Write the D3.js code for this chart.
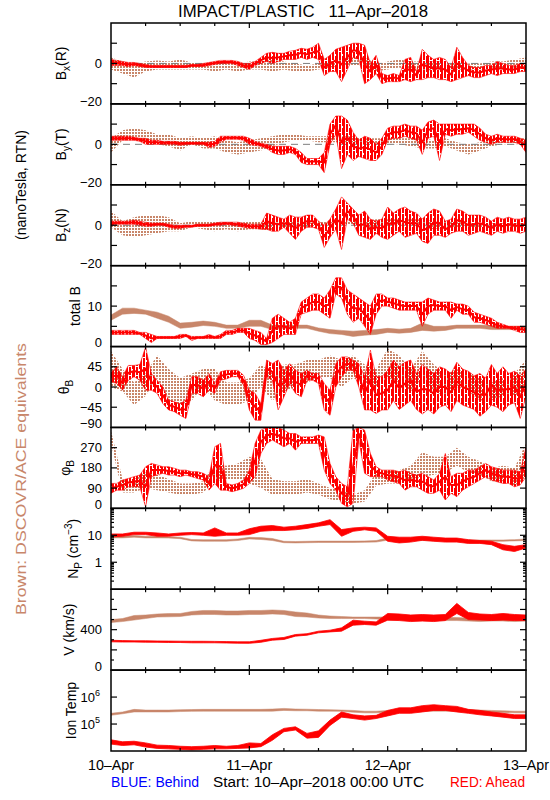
<!DOCTYPE html>
<html><head><meta charset="utf-8">
<script src="https://cdn.jsdelivr.net/npm/d3@7"></script>
<style>
body{margin:0;background:#fff}
svg{display:block}
text{font-family:"Liberation Sans",Arial,Helvetica,sans-serif}
</style>
</head><body>
<svg id="c" width="550" height="800"></svg>
<script>
// ---------------- DATA ----------------
const dayLabels = ["10–Apr","11–Apr","12–Apr","13–Apr"];
const dayHours = [0,24,48,72];
const titleText = "IMPACT/PLASTIC   11–Apr–2018";
const startText = "Start: 10–Apr–2018 00:00 UTC";

// red = STEREO Ahead (hourly, 0..72 h), brown = DSCOVR/ACE (every 2 h)
const bxRedLo = [-1,-1,-1,-1.5,-1,-1.5,-2,-2,-2,-2, -2,-2,-2,-2,-1.5,-1.5,-1.5,-1,-0.5,0, 0,0,-1,-2,-3,-1,0,1,0,1, 2,2,2,3,2,3,2,-6,-4,-4, -9,-3,3,2,-10,-8,-5,-10,-9,-9, -9,-8,-9,-8,-8,-7,-7,-8,-8,-9, -8,-7,-6,-7,-7,-6,-5,-6,-5,-5, -5,-4,-4];
const bxRedHi = [2,1.5,1,0.5,0.5,0,-0.5,-1,-1,-1, -1,-1,-1,-1,-0.5,-0.5,0,0.5,1,1.5, 1.5,1.5,1,0,0,1,3,5,5.5,5, 5,6,6.5,7.5,7,8,10,2,4,7, 8,9,10,10,9,0,4,-5,-6,-5, -6,2,3,-4,7,4,2,3,2,-2, 8,3,-1,-2,-2,-1,-1,1,0,-1, -1,0,-1];
const bxBrnLo = [-3,-5,-7,-4,-3,-3,-3,-3,-3,-4,-3,-4,-3,-3,-4,-3,-4,-4,-3,-2,-1,-1,-1,-4,-3,-2,-4,-4,-3,-3,-3,-3,-3,-2,-3,-2,-2];
const bxBrnHi = [3,1,0,1,1.5,1,2,0.5,0,0,1,0,1,1,2,1,0,-1,0,1,2,3,3,0,1,2,1,1,1,1,0,0,0,1,1,2,3];

const byRedLo = [2,2,2,2,2,1.5,0,0,0,0, 0,0,-0.5,0,0,0,0,-1.5,-1,1, 2.5,2.5,2.5,2,0,-0.5,-1,-2,-4,-5, -5,-4,-5,-9,-10,-10,-10,-14,0,5, -12,-5,-8,-6,-7,-8,-8,-5,2,3, 3,4,3,2,-5,3,4,-8,5,4, 5,5,6,4,2,1,0,1,1,1, 1,0,-4];
const byRedHi = [4,4,4,4,3.5,3,3,2,2,1.5, 1.5,1.5,1,1,1,1,1,1,1.5,4, 4,4,4,4,3,1.5,0.5,0,-1,-1, -1,-1,-2,-4,-7,-7,-7,-4,10,14, 14,12,6,2,4,3,0,3,8,9, 9,10,9,9,7,11,12,10,10,10, 10,10,10,10,8,5,4,5,4,4, 4,3,2];
const byBrnLo = [-4,2,2,1,0,-1,-3,0,-2,-2,-4,-5,-4,-3,-1,1,2,2,1,1,1,1,1,0,0,0,-1,-2,-2,-1,-3,-5,-3,-1,0,0,0];
const byBrnHi = [3,7,8,7,5,5,3,4,3,4,2,1,2,3,4,5,5,4,4,4,4,4,3,3,3,3,3,3,2,3,1,0,1,2,3,3,3];

const bzRedLo = [0,0.5,0.5,0.5,0.5,0,-0.5,-0.5,0,0, -1,-1.5,-1.5,-1,-1,-0.5,-0.5,-0.5,0,0, 0.5,0,-0.5,-1,-1.5,-1.5,-2,-2,-3,-3, -1,-4,-7,-3,-1,-1,-2,-11,-6,-2, -12,3,1,-5,-6,-7,-4,-6,-7,-5, -3,-6,-5,-4,-8,-9,-5,-5,-6,-4, -3,-3,-5,-4,-3,-4,-5,-3,-4,-3, -3,-4,-3];
const bzRedHi = [2,2,2,2,2.5,2,1.5,1,1,1, 0.5,0,0,0,0,0.5,0.5,0.5,1,1.5, 1.5,1.5,1.5,1,0.5,0.5,0.5,6,5,4, 3,5,4,4,5,5,2,0,3,8, 14,11,8,5,7,3,2,3,9,6, 8,9,7,6,3,6,8,7,2,3, 8,7,5,5,5,4,2,4,3,4, 3,3,4];
const bzBrnLo = [-1,-5,-6,-5,-4,-3,-3,-1,-2,-3,-2,-3,-2,-2,-3,-1,-1,-1,0,1,1,0,-1,-1,0,0,0,-1,-2,-1,-1,-1,-1,-1,-1,-1,-1];
const bzBrnHi = [7,2,4,5,5,4,1,2,2,2,2,1,2,2,1,2,2,1,2,2,2,2,2,3,3,3,3,3,2,2,2,1,1,1,1,1,1];

const btRedLo = [3,3,3,3,3,3,2,1,2,2, 2,2,2,2.5,1.5,2,2,2,2,2, 3,3,3.5,3.5,2,1.5,0.5,0.5,1,2, 3,3,3,8,8.5,9,9,8,7,13, 12,8,6,7,5,3,8,10,10,9.5, 9,9,9,9,5,8,9,9,9,7, 9,8,8,6,6,5.5,5,4.5,4.5,4.5, 4,3.5,3.5];
const btRedHi = [4,4,4,4,4,3.5,3.5,3,2.5,2.5, 2.5,2.5,3,3,2.5,2.5,2.5,3,2.5,3, 4,4,4.5,4.5,4.5,4,3.5,2,7,8, 7,6,7,11,12,13,13,12,14,17, 17,14,13,12,11,10,13,13,12,12, 11.5,11,11,11,11,12,11.5,11,11,11, 10.5,10.5,10,8.5,8,7.5,7,6,5.5,5, 5,5,4.5];
const btBrnLo = [6.5,8,8.2,8,7,6,4.5,4.8,5.2,5,4.5,4.5,5,5,4.2,4.5,4.5,4.5,3.8,3.2,3,2.5,2.8,3,3.5,3.3,3.5,4,3.8,4,4.5,4.5,4.5,4.2,4.2,4.2,4];
const btBrnHi = [7.8,9.5,9.5,9,8.5,7.5,5.8,6,6.3,6,5.3,5.3,6.5,6.5,5.3,5.3,5.3,5.3,4.6,4.2,4,3.8,4,4.2,4.5,4.3,4.5,5.8,5,5,5.3,5.3,5.3,5.2,5,5,5];

const thRedLo = [12,8,-7,15,23,15,-7,-7,-14,-37, -51,-55,-63,-70,-14,-14,-22,-7,-14,15, 18,23,23,4,-51,-74,-74,23,15,-51, -22,8,-14,-22,15,15,8,-51,-63,0, 23,37,37,0,-51,-51,-59,-51,-51,-30, -50,-40,-30,-50,-60,-50,-60,-45,-40,-55, -30,-40,-45,-50,-65,-55,-40,-45,-55,-40, -35,-70,-20];
const thRedHi = [32,45,23,48,48,50,89,30,15,0, -29,-33,-37,-29,23,23,15,30,8,34, 37,37,37,26,-7,-14,-37,60,52,60, 37,52,37,30,37,30,30,8,-7,52, 67,67,60,52,23,82,23,23,37,60, 45,55,60,30,50,40,30,45,40,30, 55,40,35,25,30,20,50,30,45,30, 35,25,40];
const thBrnLo = [0,-10,-40,-20,20,-30,-40,-30,0,-30,-40,-40,-30,0,-30,-10,0,10,20,20,0,20,10,0,20,10,-10,20,-10,-20,0,-10,-30,-30,-20,-20,-10];
const thBrnHi = [80,40,10,30,70,40,20,30,40,40,10,10,20,50,30,50,50,60,60,70,60,70,50,40,85,70,40,80,50,30,40,30,20,10,20,30,60];

const phRedLo = [67,81,81,96,96,96,7,141,148,156, 148,148,141,148,141,133,126,81,111,81, 81,74,81,89,111,141,244,289,304,289, 274,289,259,289,289,289,289,170,111,81, 22,7,22,304,156,141,141,141,126,118, 111,81,96,96,81,67,67,81,37,67, 52,81,96,111,126,141,126,118,111,111, 96,104,141];
const phRedHi = [111,111,126,133,141,148,185,200,193,185, 185,178,170,170,163,163,156,141,274,289, 111,104,111,126,170,289,348,360,360,360, 348,333,333,318,318,318,326,318,200,141, 111,96,348,360,348,244,185,170,170,170, 163,170,156,148,156,141,126,156,244,141, 156,156,170,170,185,200,185,178,170,170, 170,163,274];
const phBrnLo = [290,70,70,90,80,70,60,60,70,120,130,130,110,90,60,60,60,70,60,40,30,20,30,100,110,110,130,140,150,160,190,160,150,120,120,100,130];
const phBrnHi = [345,130,130,160,150,130,110,110,120,200,190,200,230,220,130,120,120,130,110,90,80,60,80,160,170,170,190,250,230,230,270,230,210,180,190,180,290];

const npRedLo = [8.8,9.2,10.6,10.6,9.2,9.2,10,10.6,10,9.2,10,10,10.6,14.1,15,15,16,18,21.7,25,9.2,14,16,14,6,5.2,5.6,6.5,6,5.6,5.6,5,5,4.5,2.9,2.5,3.4];
const npRedHi = [11.2,11.2,13,13,12.2,11.2,12.2,12.7,12.2,18.8,12.2,12.2,17.5,21.7,23,20,21.7,25,29,38,16.3,18.8,20,18.8,9.2,8.5,8.5,9.2,8.5,7.9,7.9,6.9,6.4,6,4.5,3.9,4.5];
const npBrnLo = [8,8,8.5,8,8,7.9,7.5,6.2,6,6,6,6.4,7.3,7,6.4,5.3,5.2,5.3,5.4,5.4,5.4,5.4,5.5,5.6,6.6,6.4,6.4,6.4,6.2,6.2,6.2,6,6,6,6,6.2,6.4];
const npBrnHi = [9.5,9.5,9.8,9.2,9.2,8.8,8.5,7,6.9,6.9,6.9,7.3,8.4,8.2,7.6,6,5.9,6,6.1,6.1,6.1,6.1,6.2,6.4,7.9,7.5,7.3,7.3,7,7,6.9,6.7,6.7,6.7,6.7,6.9,7.3];

const vRedLo = [280,278,278,276,275,273,273,270,270,270,268,266,265,275,296,303,336,345,369,378,385,444,451,444,494,490,480,485,480,490,560,500,495,490,495,490,490];
const vRedHi = [295,292,290,290,288,287,286,285,285,284,282,280,280,295,313,323,352,360,385,395,418,494,484,477,560,555,545,550,545,550,660,570,555,550,560,550,545];
const vBrnLo = [470,480,495,510,525,527,530,545,550,550,545,545,550,550,555,550,530,525,515,510,510,510,510,505,495,495,490,490,490,490,490,485,480,485,485,480,485];
const vBrnHi = [500,510,540,545,555,560,560,580,590,590,585,585,590,590,595,590,575,565,545,535,530,525,525,525,525,525,520,520,520,520,520,515,510,515,515,510,515];

const tRedLo = [1.8e4,1.6e4,1.7e4,1.4e4,1.25e4,1.2e4,1.15e4,1.1e4,1.15e4,1.2e4,1.2e4,1.25e4,1.3e4,1.45e4,2.5e4,5.2e4,6.0e4,3.0e4,3.2e4,8.9e4,1.8e5,1.6e5,1.4e5,1.6e5,2.0e5,2.5e5,2.5e5,2.8e5,3.2e5,3.2e5,2.8e5,2.5e5,2.2e5,2.0e5,1.8e5,1.6e5,1.6e5];
const tRedHi = [2.6e4,2.2e4,2.3e4,2.0e4,1.65e4,1.6e4,1.5e4,1.45e4,1.5e4,1.6e4,1.5e4,1.6e4,2.0e4,1.9e4,4.0e4,6.9e4,7.9e4,4.5e4,5.6e4,1.4e5,2.8e5,2.2e5,2.0e5,2.1e5,3.2e5,4.0e5,4.0e5,4.8e5,5.2e5,4.8e5,4.5e5,3.5e5,3.2e5,2.8e5,2.5e5,2.2e5,2.2e5];
const tBrnLo = [2.1e5,2.4e5,2.8e5,2.8e5,2.8e5,2.8e5,2.9e5,2.95e5,3.0e5,3.0e5,3.0e5,3.0e5,3.0e5,3.0e5,3.0e5,3.2e5,3.1e5,3.1e5,3.0e5,3.0e5,2.95e5,2.75e5,2.6e5,2.6e5,2.7e5,2.8e5,2.9e5,2.95e5,3.0e5,3.0e5,3.0e5,2.9e5,2.8e5,2.75e5,2.7e5,2.6e5,2.6e5];
const tBrnHi = [2.5e5,2.8e5,3.5e5,3.3e5,3.3e5,3.3e5,3.4e5,3.45e5,3.5e5,3.5e5,3.5e5,3.5e5,3.5e5,3.5e5,3.6e5,3.8e5,3.6e5,3.55e5,3.45e5,3.4e5,3.3e5,3.2e5,3.0e5,3.0e5,3.2e5,3.3e5,3.5e5,3.55e5,3.6e5,3.6e5,3.55e5,3.4e5,3.3e5,3.2e5,3.1e5,3.0e5,3.0e5];

// ---------------- LAYOUT ----------------
const RED = "#ff0000", BROWN = "#c8866a", BLUE = "#0000ff";
const L = 111, R = 526, TOP = 23, BOT = 751, NP = 9;
const PH = (BOT - TOP) / NP;
const svg = d3.select("#c");
const x = d3.scaleLinear().domain([0, 72]).range([L, R]);

const defs = svg.append("defs");
// scatter-like texture for the DSCOVR/ACE points
const pat = defs.append("pattern").attr("id","brpat").attr("width",3).attr("height",3)
  .attr("patternUnits","userSpaceOnUse");
pat.append("rect").attr("width",2).attr("height",2).attr("fill",BROWN);
// dense, irregular vertical texture for the noisy Ahead trace
const rpat = defs.append("pattern").attr("id","rpat").attr("width",7).attr("height",9)
  .attr("patternUnits","userSpaceOnUse");
[[0,0,2,9],[3,0,2,6],[3,7,2,2],[6,2,1,7]].forEach(r=>
  rpat.append("rect").attr("x",r[0]).attr("y",r[1]).attr("width",r[2]).attr("height",r[3]).attr("fill",RED));

const logMinor = (a,b) => { const out=[]; for(let e=a;e<b;e++) for(let k=2;k<=9;k++) out.push(k*Math.pow(10,e)); return out; };

const panels = [
  {title:[["B"],["x","sub"],["(R)"]], tx:66, type:"lin", dom:[-20,20], major:[-10,0,10], minor:[], labels:[[0,"0"],[-20,"−20",2]], zero:true, red:[bxRedLo,bxRedHi], brn:[bxBrnLo,bxBrnHi], pat:true, rtex:true},
  {title:[["B"],["y","sub"],["(T)"]], tx:66, type:"lin", dom:[-20,20], major:[-10,0,10], minor:[], labels:[[0,"0"],[-20,"−20",2]], zero:true, red:[byRedLo,byRedHi], brn:[byBrnLo,byBrnHi], pat:true, rtex:true},
  {title:[["B"],["z","sub"],["(N)"]], tx:66, type:"lin", dom:[-20,20], major:[-10,0,10], minor:[], labels:[[0,"0"],[-20,"−20",2]], zero:true, red:[bzRedLo,bzRedHi], brn:[bzBrnLo,bzBrnHi], pat:true, rtex:true},
  {title:[["total B"]], tx:80, type:"lin", dom:[0,20], major:[5,10,15], minor:[], labels:[[10,"10"],[0,"0",4]], red:[btRedLo,btRedHi], brn:[btBrnLo,btBrnHi], pat:false, rtex:true},
  {title:[["θ"],["B","sub"]], tx:69, type:"lin", dom:[-90,90], major:[-45,0,45], minor:[], labels:[[45,"45"],[0,"0"],[-45,"−45"],[-90,"−90",4]], red:[thRedLo,thRedHi], brn:[thBrnLo,thBrnHi], pat:true, rtex:true},
  {title:[["φ"],["B","sub"]], tx:70, type:"lin", dom:[0,360], major:[90,180,270], minor:[], labels:[[270,"270"],[180,"180"],[90,"90"],[0,"0",4]], red:[phRedLo,phRedHi], brn:[phBrnLo,phBrnHi], pat:true, rtex:true},
  {title:[["N"],["P","sub"],[" (cm"],["−3","sup"],[")"]], tx:78, type:"log", dom:[0.1,100], major:[1,10], minor:logMinor(-1,2), labels:[[10,"10"],[1,"1"]], red:[npRedLo,npRedHi], brn:[npBrnLo,npBrnHi], pat:false, rtex:false},
  {title:[["V (km/s)"]], tx:74, type:"lin", dom:[0,800], major:[200,400,600], minor:[100,300,500,700], labels:[[400,"400"],[0,"0",4]], red:[vRedLo,vRedHi], brn:[vBrnLo,vBrnHi], pat:false, rtex:false},
  {title:[["Ion Temp"]], tx:76, type:"log", dom:[1e4,1e7], major:[1e5,1e6], minor:[], labels:[[1e6,"10","6"],[1e5,"10","5"]], red:[tRedLo,tRedHi], brn:[tBrnLo,tBrnHi], pat:false, rtex:false}
];

// text with sub/superscripts; the baseline reset is carried by the following tspan
function addRich(sel, parts, smallSize){
  let pending = 0;
  parts.forEach(([t,kind])=>{
    const ts = sel.append("tspan").text(t);
    let d = 0;
    if(kind==="sub") d = 4; else if(kind==="sup") d = -6;
    const dy = pending + d;
    if(dy) ts.attr("dy", dy);
    if(kind) ts.attr("font-size", smallSize);
    pending = -d;
  });
}

function band(g, lo, hi, ys, fill, stroke, sw, mid){
  const n = lo.length;
  const data = lo.map((v,i)=>({t:i*72/(n-1), lo:v, hi:hi[i]}));
  const area = d3.area().x(d=>x(d.t)).y0(d=>ys(d.lo)).y1(d=>ys(d.hi));
  const p = g.append("path").datum(data).attr("d", area).attr("fill", fill);
  if(stroke) p.attr("stroke", stroke).attr("stroke-width", sw).attr("stroke-linejoin","round");
  if(mid){
    const line = d3.line().x(d=>x(d.t)).y(d=>(ys(d.lo)+ys(d.hi))/2);
    g.append("path").datum(data).attr("d", line).attr("fill","none")
      .attr("stroke", mid.color).attr("stroke-width", mid.w).attr("stroke-linejoin","round");
  }
}

panels.forEach((p, k)=>{
  const top = TOP + k*PH, bot = top + PH;
  const ys = (p.type==="log" ? d3.scaleLog() : d3.scaleLinear()).domain(p.dom).range([bot, top]);
  const cid = "clip"+k;
  defs.append("clipPath").attr("id",cid).append("rect").attr("x",L).attr("y",top).attr("width",R-L).attr("height",PH);
  const g = svg.append("g").attr("clip-path",`url(#${cid})`);

  // brown (DSCOVR/ACE)
  if(p.pat) band(g, p.brn[0], p.brn[1], ys, "url(#brpat)", null, 0);
  else band(g, p.brn[0], p.brn[1], ys, BROWN, BROWN, 0.5);

  if(p.zero){
    g.append("line").attr("x1",L).attr("x2",R).attr("y1",ys(0)).attr("y2",ys(0))
      .attr("stroke","#7f7f7f").attr("stroke-width",1).attr("stroke-dasharray","7,5");
  }
  // red (Ahead)
  if(p.rtex) band(g, p.red[0], p.red[1], ys, "url(#rpat)", RED, 0.6, {color:RED, w:2});
  else band(g, p.red[0], p.red[1], ys, RED, RED, 0.8, null);

  // frame
  svg.append("rect").attr("x",L).attr("y",top).attr("width",R-L).attr("height",PH)
    .attr("fill","none").attr("stroke","#000").attr("stroke-width",1.5);

  // y ticks
  const tk = svg.append("g").attr("stroke","#000").attr("stroke-width",1.2);
  p.major.forEach(v=>{
    const y = ys(v);
    tk.append("line").attr("x1",L).attr("x2",L+6).attr("y1",y).attr("y2",y);
    tk.append("line").attr("x1",R).attr("x2",R-6).attr("y1",y).attr("y2",y);
  });
  p.minor.forEach(v=>{
    const y = ys(v);
    tk.append("line").attr("x1",L).attr("x2",L+3).attr("y1",y).attr("y2",y);
    tk.append("line").attr("x1",R).attr("x2",R-3).attr("y1",y).attr("y2",y);
  });
  // x ticks (6 h), top & bottom
  d3.range(6,72,6).forEach(h=>{
    const len = (h%24===0) ? 5 : 3;
    tk.append("line").attr("x1",x(h)).attr("x2",x(h)).attr("y1",top).attr("y2",top+len);
    tk.append("line").attr("x1",x(h)).attr("x2",x(h)).attr("y1",bot).attr("y2",bot-len);
  });

  // y tick labels
  p.labels.forEach(lb=>{
    const [v, txt, extra] = lb;
    const t = svg.append("text").attr("x",102).attr("y", ys(v) + 4.5 - (typeof extra==="number"?extra:0))
      .attr("text-anchor","end").attr("font-size",13).attr("fill","#000");
    if(typeof extra==="string"){
      t.attr("x",100);
      addRich(t, [[txt],[extra,"sup"]], 9);
    } else t.text(txt);
  });

  // y title
  const tt = svg.append("text").attr("transform",`translate(${p.tx},${(top+bot)/2}) rotate(-90)`)
    .attr("text-anchor","middle").attr("font-size",14).attr("fill","#000");
  addRich(tt, p.title, 10);
});

// x labels
dayLabels.forEach((d,i)=>{
  svg.append("text").attr("x",x(dayHours[i])).attr("y",770).attr("text-anchor","middle")
    .attr("font-size",14).attr("textLength",46).attr("lengthAdjust","spacingAndGlyphs").text(d);
});

// title
svg.append("text").attr("x",303).attr("y",17).attr("text-anchor","middle").attr("font-size",16)
  .style("white-space","pre").attr("textLength",250).attr("lengthAdjust","spacingAndGlyphs").text(titleText);

// left side labels
svg.append("text").attr("transform","translate(26,185) rotate(-90)").attr("text-anchor","middle")
  .attr("font-size",14).attr("textLength",110).attr("lengthAdjust","spacingAndGlyphs").text("(nanoTesla, RTN)");
svg.append("text").attr("transform","translate(26,479) rotate(-90)").attr("text-anchor","middle")
  .attr("font-size",14).attr("fill",BROWN).attr("textLength",272).attr("lengthAdjust","spacingAndGlyphs")
  .text("Brown: DSCOVR/ACE equivalents");

// bottom legend
svg.append("text").attr("x",111).attr("y",787).attr("font-size",14).attr("fill",BLUE)
  .attr("textLength",88).attr("lengthAdjust","spacingAndGlyphs").text("BLUE: Behind");
svg.append("text").attr("x",213).attr("y",787).attr("font-size",14).attr("fill","#000")
  .attr("textLength",211).attr("lengthAdjust","spacingAndGlyphs").text(startText);
svg.append("text").attr("x",450).attr("y",787).attr("font-size",14).attr("fill",RED)
  .attr("textLength",75).attr("lengthAdjust","spacingAndGlyphs").text("RED: Ahead");
</script>
</body></html>
